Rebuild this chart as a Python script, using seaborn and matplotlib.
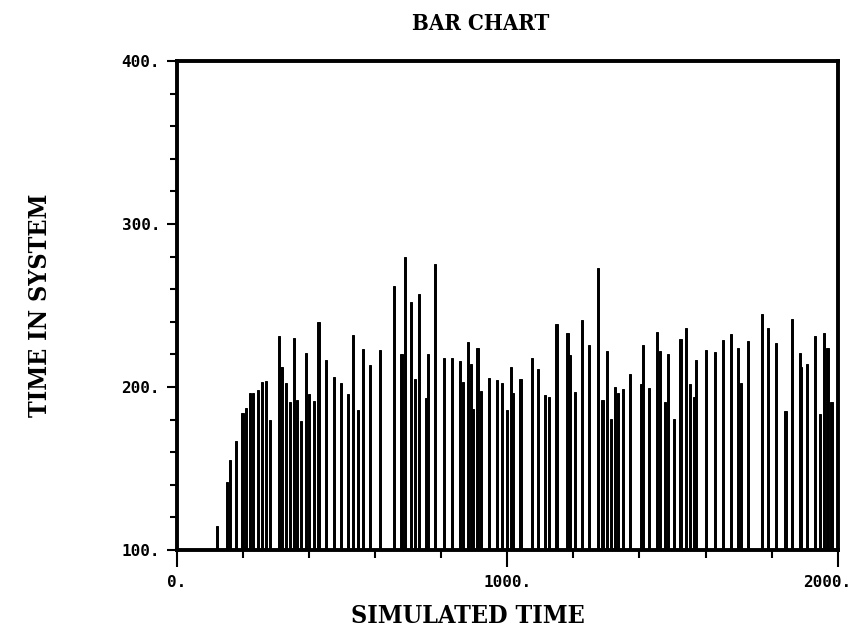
import matplotlib
matplotlib.use("Agg")
import matplotlib.pyplot as plt
from matplotlib.ticker import MultipleLocator, FixedLocator
import seaborn as sns
import pandas as pd
import numpy as np

# ---- data ----
sim_time = [122, 152, 160, 178, 199, 209, 221, 231, 246, 259, 271, 281, 309, 317, 330,
            342, 355, 364, 377, 390, 400, 415, 429, 451, 476, 496, 518, 534, 549, 564,
            584, 614, 657, 680, 690, 708, 720, 733, 755, 760, 781, 809, 833, 858, 867,
            880, 890, 897, 910, 920, 945, 968, 985, 998, 1010, 1018, 1040, 1076, 1093,
            1113, 1126, 1149, 1182, 1189, 1204, 1226, 1248, 1275, 1288, 1302, 1313,
            1325, 1335, 1349, 1371, 1406, 1411, 1429, 1453, 1462, 1477, 1487, 1504,
            1524, 1542, 1552, 1564, 1572, 1600, 1628, 1653, 1676, 1698, 1707, 1729,
            1772, 1789, 1812, 1842, 1862, 1885, 1890, 1908, 1932, 1946, 1959, 1969, 1981]
time_in_system = [114.7, 141.8, 155, 166.7, 184.3, 187, 196, 196, 198, 203, 203.7, 179.6,
                  231, 212, 202.5, 191, 230, 192, 179, 221, 195.5, 191.5, 240, 216.8,
                  206, 202.5, 195.5, 232, 185.7, 223, 213.7, 222.5, 261.7, 220, 279.6,
                  252, 204.7, 256.8, 193, 220, 275.5, 218, 218, 215.7, 203, 227.6, 214,
                  186.7, 224, 197.6, 205.5, 204, 202.7, 185.7, 212, 196, 205, 218, 210.8,
                  195.3, 194, 238.8, 233, 219.4, 196.6, 241.3, 226, 273, 192.3, 222,
                  180.6, 200, 196, 198.6, 208.2, 202, 226, 199.4, 234, 222, 190.8, 220,
                  180.2, 229.6, 236.4, 202, 194, 216.3, 222.5, 221.4, 229, 232.7, 224,
                  202.5, 228, 244.5, 236.4, 227, 185.3, 241.4, 221, 212, 214.3, 231,
                  183.7, 233, 224, 190.8]
x_ticks = [0, 1000, 2000]
x_tick_labels = ["0.", "1000.", "2000."]
y_ticks = [100, 200, 300, 400]
y_tick_labels = ["100.", "200.", "300.", "400."]

df = pd.DataFrame({"t": sim_time, "v": time_in_system})

sns.set_theme(style="white")
plt.rcParams["font.family"] = ["DejaVu Sans"]
plt.rcParams["text.color"] = "black"
plt.rcParams["axes.labelcolor"] = "black"
plt.rcParams["xtick.color"] = "black"
plt.rcParams["ytick.color"] = "black"

fig = plt.figure(figsize=(8.54, 6.41), dpi=100)
ax = fig.add_axes([0.207, 0.142, 0.774, 0.763])

min_gap = np.min(np.diff(sorted(sim_time)))
bar_w = 6.5 / min_gap
sns.barplot(data=df, x="t", y="v", native_scale=True, color="black",
            errorbar=None, width=bar_w, edgecolor="black", linewidth=0.7,
            saturation=1, ax=ax)

ax.set_xlim(0, 2000)
ax.set_ylim(100, 400)

tick_font = dict(family="DejaVu Sans Mono", weight="bold", size=11.5, color="black")

ax.xaxis.set_major_locator(FixedLocator(x_ticks))
ax.xaxis.set_minor_locator(MultipleLocator(200))
# last x label is drawn separately so it can sit inside the figure edge
ax.set_xticklabels(x_tick_labels[:-1] + [""])
ax.annotate(x_tick_labels[-1], xy=(x_ticks[-1], 0), xycoords=ax.get_xaxis_transform(),
            xytext=(10, -18), textcoords="offset points", ha="right", va="top",
            **tick_font)
ax.yaxis.set_major_locator(FixedLocator(y_ticks))
ax.yaxis.set_minor_locator(MultipleLocator(20))
ax.set_yticklabels(y_tick_labels)

for lab in ax.get_xticklabels() + ax.get_yticklabels():
    lab.set_fontfamily("DejaVu Sans Mono")
    lab.set_fontweight("bold")
    lab.set_fontsize(11.5)
    lab.set_color("black")

ax.tick_params(axis="x", which="major", direction="out", length=12, width=1.5,
               bottom=True, pad=6)
ax.tick_params(axis="x", which="minor", direction="out", length=6, width=1.5,
               bottom=True)
ax.tick_params(axis="y", which="major", direction="out", length=7, width=1.5,
               left=True, pad=5)
ax.tick_params(axis="y", which="minor", direction="out", length=5, width=1.5,
               left=True)

for s in ax.spines.values():
    s.set_visible(True)
    s.set_color("black")
    s.set_linewidth(2.8)

title_font = dict(family="DejaVu Serif", weight="bold", stretch="condensed", size=16,
                  color="black")
ax.set_title("BAR CHART", pad=22, fontdict=title_font, x=0.46)
ax.set_xlabel("SIMULATED TIME", fontsize=18, fontfamily="DejaVu Serif",
              fontweight="bold", fontstretch="condensed", labelpad=10, x=0.44,
              color="black")
ax.set_ylabel("TIME IN SYSTEM", fontsize=18, fontfamily="DejaVu Serif",
              fontweight="bold", fontstretch="condensed", labelpad=50, color="black")
ax.grid(False)

fig.savefig("out.png", dpi=100, facecolor="white")
